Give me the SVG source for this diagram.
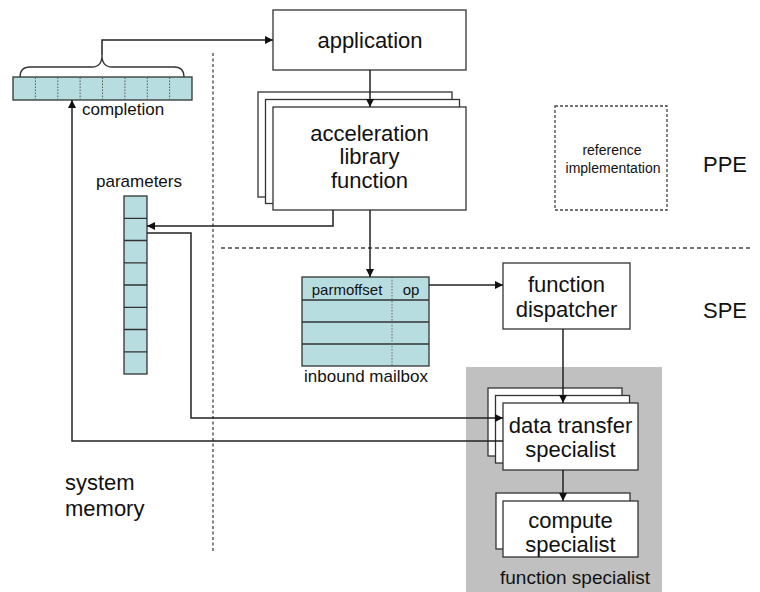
<svg xmlns="http://www.w3.org/2000/svg" width="760" height="592" viewBox="0 0 760 592">
  <style>
    .box { fill: #ffffff; stroke: #333333; stroke-width: 1.3; }
    .cell { fill: #b7dde1; stroke: #333333; stroke-width: 1.3; }
    .div { stroke: #333333; stroke-width: 1.3; fill: none; }
    .dot { stroke: #555555; stroke-width: 1; stroke-dasharray: 1.5 1.5; fill: none; }
    .wire { stroke: #222222; stroke-width: 1.5; fill: none; }
    .t { font-family: "Liberation Sans", Arial, sans-serif; fill: #111111; }
    .big { font-size: 22px; }
    .mid { font-size: 17px; }
    .sm { font-size: 14px; }
    .c { text-anchor: middle; }
  </style>
  <defs>
    <marker id="arrow" viewBox="0 0 10 10" refX="10" refY="5" markerWidth="9" markerHeight="8" markerUnits="userSpaceOnUse" orient="auto">
      <path d="M0,0 L10,5 L0,10 z" fill="#111111"/>
    </marker>
  </defs>

  <!-- region separators -->
  <g id="separators">
    <line x1="213" y1="53" x2="213" y2="552" stroke="#444" stroke-width="1.3" stroke-dasharray="3 2.5"/>
    <line x1="221" y1="248" x2="752" y2="248" stroke="#444" stroke-width="1.3" stroke-dasharray="4 3"/>
  </g>

  <!-- function specialist container -->
  <g id="function-specialist">
    <rect x="466" y="367" width="196" height="225" fill="#c0c0c0"/>
    <text class="t c" x="575" y="584" font-size="19">function specialist</text>
  </g>

  <!-- completion array with brace -->
  <g id="completion">
    <rect class="cell" x="13" y="77" width="179" height="23"/>
    <path class="dot" d="M35.4,77.5 V99.5 M57.8,77.5 V99.5 M80.1,77.5 V99.5 M102.5,77.5 V99.5 M124.9,77.5 V99.5 M147.3,77.5 V99.5 M169.6,77.5 V99.5"/>
    <path d="M20,77 Q20,67 30,67 L92,67 Q102,67 102,55 Q102,67 112,67 L174,67 Q184,67 184,77" fill="none" stroke="#333" stroke-width="1.3"/>
    <text class="t mid" x="82" y="115">completion</text>
  </g>

  <!-- parameters array -->
  <g id="parameters">
    <rect class="cell" x="124" y="196" width="23" height="178"/>
    <path class="div" d="M124,218.3 H147 M124,240.5 H147 M124,262.8 H147 M124,285 H147 M124,307.3 H147 M124,329.5 H147 M124,351.8 H147"/>
    <text class="t mid" x="96" y="187">parameters</text>
  </g>

  <!-- application -->
  <g id="application">
    <rect class="box" x="273" y="10" width="193" height="60"/>
    <text class="t big c" x="370" y="48">application</text>
  </g>

  <!-- acceleration library function (stacked) -->
  <g id="acceleration-library">
    <rect class="box" x="258" y="92" width="194" height="105"/>
    <rect class="box" x="265.5" y="99.5" width="194" height="104"/>
    <rect class="box" x="273" y="107" width="193" height="103"/>
    <text class="t big c" x="369.5" y="141">acceleration</text>
    <text class="t big c" x="369.5" y="164">library</text>
    <text class="t big c" x="369.5" y="188">function</text>
  </g>

  <!-- reference implementation -->
  <g id="reference-implementation">
    <rect x="555" y="106" width="112" height="104" fill="none" stroke="#444" stroke-width="1.3" stroke-dasharray="3 2"/>
    <text class="t sm c" x="612" y="155">reference</text>
    <text class="t sm c" x="613" y="173">implementation</text>
  </g>

  <!-- region labels -->
  <g id="labels">
    <text class="t big" x="703" y="172">PPE</text>
    <text class="t big" x="703" y="318">SPE</text>
    <text class="t big" x="65" y="490">system</text>
    <text class="t big" x="65" y="516">memory</text>
  </g>

  <!-- inbound mailbox -->
  <g id="inbound-mailbox">
    <rect class="cell" x="302" y="277" width="127" height="89"/>
    <path class="div" d="M302,300 H429 M302,322 H429 M302,344 H429"/>
    <line x1="392" y1="277" x2="392" y2="366" stroke="#666" stroke-width="1" stroke-dasharray="1.5 1.5"/>
    <text class="t" x="347" y="295" font-size="15" text-anchor="middle">parmoffset</text>
    <text class="t" x="411" y="295" font-size="15" text-anchor="middle">op</text>
    <text class="t mid c" x="366" y="382">inbound mailbox</text>
  </g>

  <!-- function dispatcher -->
  <g id="function-dispatcher">
    <rect class="box" x="503" y="263" width="127" height="66"/>
    <text class="t big c" x="566.5" y="292">function</text>
    <text class="t big c" x="566.5" y="317">dispatcher</text>
  </g>

  <!-- data transfer specialist (stacked) -->
  <g id="data-transfer-specialist">
    <rect class="box" x="488" y="388" width="134" height="68"/>
    <rect class="box" x="495.5" y="395.5" width="134" height="67.5"/>
    <rect class="box" x="503" y="403" width="135" height="67"/>
    <text class="t big c" x="570.5" y="433">data transfer</text>
    <text class="t big c" x="570.5" y="457">specialist</text>
  </g>

  <!-- compute specialist (stacked) -->
  <g id="compute-specialist">
    <rect class="box" x="496" y="493" width="134" height="56"/>
    <rect class="box" x="503" y="501" width="135" height="56"/>
    <text class="t big c" x="570.5" y="528">compute</text>
    <text class="t big c" x="570.5" y="552">specialist</text>
  </g>

  <!-- connectors -->
  <g id="connectors">
    <path class="wire" d="M102,55 V40 H273" marker-end="url(#arrow)"/>
    <path class="wire" d="M370,70 V107" marker-end="url(#arrow)"/>
    <path class="wire" d="M370,210 V277" marker-end="url(#arrow)"/>
    <path class="wire" d="M333,210 V226 H147" marker-end="url(#arrow)"/>
    <path class="wire" d="M147,233 H191 V418 H503" marker-end="url(#arrow)"/>
    <path class="wire" d="M429,285 H503" marker-end="url(#arrow)"/>
    <path class="wire" d="M563,329 V403" marker-end="url(#arrow)"/>
    <path class="wire" d="M503,441 H72 V100" marker-end="url(#arrow)"/>
    <path class="wire" d="M563,470 V501" marker-end="url(#arrow)"/>
  </g>
</svg>
